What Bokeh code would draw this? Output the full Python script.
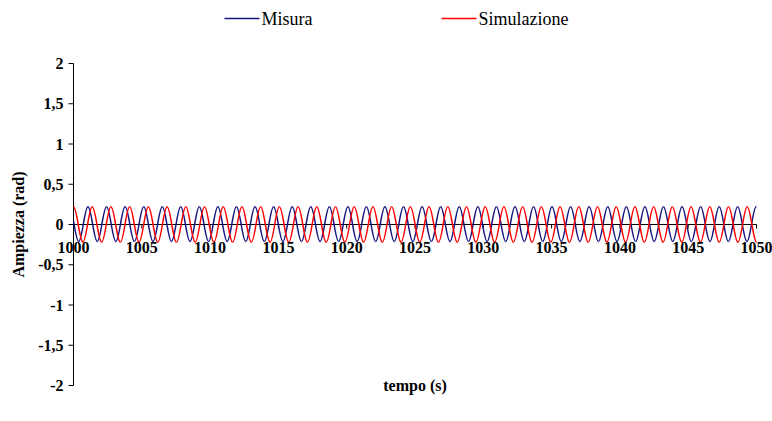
import math

from bokeh.plotting import figure
from bokeh.models import Range1d, LabelSet, Label, ColumnDataSource
from bokeh.embed import file_html
from bokeh.resources import INLINE

# Extremum times (s) and levels (rad) of the measured trace
misura_peak_t = [999.70, 1001.06, 1002.42, 1003.78, 1005.14, 1006.50, 1007.85, 1009.21,
                 1010.57, 1011.93, 1013.29, 1014.65, 1016.01, 1017.37, 1018.73, 1020.09,
                 1021.44, 1022.80, 1024.16, 1025.52, 1026.88, 1028.24, 1029.60, 1030.96,
                 1032.32, 1033.68, 1035.03, 1036.39, 1037.75, 1039.11, 1040.47, 1041.83,
                 1043.19, 1044.55, 1045.91, 1047.27, 1048.62, 1049.98]
misura_trough_t = [1000.38, 1001.74, 1003.10, 1004.46, 1005.82, 1007.17, 1008.53, 1009.89,
                   1011.25, 1012.61, 1013.97, 1015.33, 1016.69, 1018.05, 1019.41, 1020.76,
                   1022.12, 1023.48, 1024.84, 1026.20, 1027.56, 1028.92, 1030.28, 1031.64,
                   1033.00, 1034.35, 1035.71, 1037.07, 1038.43, 1039.79, 1041.15, 1042.51,
                   1043.87, 1045.23, 1046.59, 1047.94, 1049.30, 1050.66]
misura_peak = 0.22
misura_trough = -0.21

# Extremum times (s) and levels (rad) of the simulated trace
simulazione_peak_t = [1000.00, 1001.37, 1002.74, 1004.11, 1005.48, 1006.85, 1008.22, 1009.59,
                      1010.96, 1012.33, 1013.70, 1015.07, 1016.44, 1017.81, 1019.18, 1020.55,
                      1021.92, 1023.29, 1024.66, 1026.03, 1027.40, 1028.77, 1030.14, 1031.51,
                      1032.88, 1034.25, 1035.62, 1036.99, 1038.36, 1039.73, 1041.10, 1042.47,
                      1043.84, 1045.21, 1046.58, 1047.95, 1049.32, 1050.69]
simulazione_trough_t = [999.31, 1000.69, 1002.06, 1003.43, 1004.80, 1006.17, 1007.54, 1008.91,
                        1010.28, 1011.65, 1013.02, 1014.39, 1015.76, 1017.13, 1018.50, 1019.87,
                        1021.24, 1022.61, 1023.98, 1025.35, 1026.72, 1028.09, 1029.46, 1030.83,
                        1032.20, 1033.57, 1034.94, 1036.31, 1037.68, 1039.05, 1040.42, 1041.79,
                        1043.16, 1044.53, 1045.90, 1047.27, 1048.64, 1050.01]
simulazione_peak = 0.22
simulazione_trough = -0.22

series_names = ["Misura", "Simulazione"]
x_ticks = [1000, 1005, 1010, 1015, 1020, 1025, 1030, 1035, 1040, 1045, 1050]
x_tick_labels = ["1000", "1005", "1010", "1015", "1020", "1025", "1030", "1035", "1040", "1045", "1050"]
y_ticks = [-2.0, -1.5, -1.0, -0.5, 0.0, 0.5, 1.0, 1.5, 2.0]
y_tick_labels = ["-2", "-1,5", "-1", "-0,5", "0", "0,5", "1", "1,5", "2"]

X_MIN, X_MAX = 1000, 1050
Y_MIN, Y_MAX = -2, 2

# Page layout (pixels): the plotting area sits inside a full-canvas frame so that
# axis texts and the legend drawn around it are never clipped.
W, H = 772, 421
AREA_LEFT, AREA_RIGHT, AREA_TOP, AREA_BOTTOM = 73, 756, 63, 385
XPP = (X_MAX - X_MIN) / (AREA_RIGHT - AREA_LEFT)   # data units per pixel, x
YPP = (Y_MAX - Y_MIN) / (AREA_BOTTOM - AREA_TOP)   # data units per pixel, y

# Legend row: vertical centre and left end of each key line (pixels), key length
LEGEND_Y_PX = 18
LEGEND_X_PX = [224, 441]
LEGEND_KEY_PX = 35

FONT = "Liberation Serif"
BLUE = "#16167f"
RED = "#ff0000"


def px_to_x(px):
    return X_MIN + (px - AREA_LEFT) * XPP


def px_to_y(py):
    return Y_MAX - (py - AREA_TOP) * YPP


def _cubic(P, s):
    u = 1 - s
    return (u**3 * P[0][0] + 3 * u * u * s * P[1][0] + 3 * u * s * s * P[2][0] + s**3 * P[3][0],
            u**3 * P[0][1] + 3 * u * u * s * P[1][1] + 3 * u * s * s * P[2][1] + s**3 * P[3][1])


def _split(P, s):
    lerp = lambda a, b: (a[0] + (b[0] - a[0]) * s, a[1] + (b[1] - a[1]) * s)
    a, b, c = lerp(P[0], P[1]), lerp(P[1], P[2]), lerp(P[2], P[3])
    d, e = lerp(a, b), lerp(b, c)
    f = lerp(d, e)
    return [P[0], a, d, f], [f, e, c, P[3]]


def _param_at_x(P, x):
    lo, hi = 0.0, 1.0
    for _ in range(50):
        mid = (lo + hi) / 2
        if _cubic(P, mid)[0] < x:
            lo = mid
        else:
            hi = mid
    return (lo + hi) / 2


def half_waves(peak_t, trough_t, peak_v, trough_v, k=0.364):
    """Cubic Bezier half-waves joining consecutive extrema, trimmed to the time range."""
    pts = sorted([(t, peak_v) for t in peak_t] + [(t, trough_v) for t in trough_t])
    cols = {c: [] for c in ("x0", "y0", "cx0", "cy0", "cx1", "cy1", "x1", "y1")}
    for (ta, ya), (tb, yb) in zip(pts[:-1], pts[1:]):
        if tb <= X_MIN or ta >= X_MAX:
            continue
        P = [(ta, ya), (ta + k * (tb - ta), ya), (tb - k * (tb - ta), yb), (tb, yb)]
        if ta < X_MIN:
            P = _split(P, _param_at_x(P, X_MIN))[1]
        if tb > X_MAX:
            P = _split(P, _param_at_x(P, X_MAX))[0]
        for (xn, yn), (px, py) in zip((("x0", "y0"), ("cx0", "cy0"), ("cx1", "cy1"), ("x1", "y1")), P):
            cols[xn].append(px)
            cols[yn].append(py)
    return ColumnDataSource(cols)


p = figure(width=W, height=H,
           x_range=Range1d(px_to_x(0), px_to_x(W)),
           y_range=Range1d(px_to_y(H), px_to_y(0)),
           x_axis_type=None, y_axis_type=None, output_backend="svg", toolbar_location=None,
           min_border=0)
p.outline_line_color = None
p.background_fill_color = "white"
p.border_fill_color = "white"

text_style = dict(text_font=FONT, text_font_style="bold", text_font_size="16px", text_color="black")

# Value axis (left)
p.segment(x0=[X_MIN], y0=[Y_MIN], x1=[X_MIN], y1=[Y_MAX], line_color="black", line_width=1)
p.segment(x0=[X_MIN - 5 * XPP] * len(y_ticks), y0=y_ticks, x1=[X_MIN] * len(y_ticks), y1=y_ticks,
          line_color="black", line_width=1)
ytick_src = ColumnDataSource(dict(x=[X_MIN] * len(y_ticks), y=y_ticks, text=y_tick_labels))
p.add_layout(LabelSet(x="x", y="y", text="text", source=ytick_src, x_offset=-10,
                      text_align="right", text_baseline="middle", **text_style))
p.add_layout(Label(x=X_MIN, y=(Y_MIN + Y_MAX) / 2, x_offset=-55, angle=math.pi / 2,
                   text="Ampiezza (rad)", text_align="center", text_baseline="middle",
                   **text_style))

# Time axis drawn through zero
p.segment(x0=[X_MIN], y0=[0], x1=[X_MAX], y1=[0], line_color="black", line_width=1)
p.segment(x0=x_ticks, y0=[0] * len(x_ticks), x1=x_ticks, y1=[-4 * YPP] * len(x_ticks),
          line_color="black", line_width=1)
xtick_src = ColumnDataSource(dict(x=x_ticks, y=[0] * len(x_ticks), text=x_tick_labels))
p.add_layout(LabelSet(x="x", y="y", text="text", source=xtick_src, y_offset=-28,
                      text_align="center", text_baseline="alphabetic", **text_style))
p.add_layout(Label(x=(X_MIN + X_MAX) / 2, y=Y_MIN, text="tempo (s)", text_align="center",
                   text_baseline="middle", **text_style))

# Traces
bez = dict(x0="x0", y0="y0", x1="x1", y1="y1", cx0="cx0", cy0="cy0", cx1="cx1", cy1="cy1")
p.bezier(source=half_waves(misura_peak_t, misura_trough_t, misura_peak, misura_trough),
         line_color=BLUE, line_width=1.5, **bez)
p.bezier(source=half_waves(simulazione_peak_t, simulazione_trough_t,
                           simulazione_peak, simulazione_trough),
         line_color=RED, line_width=1.5, **bez)

# Legend row above the plotting area
ly = px_to_y(LEGEND_Y_PX)
for name, color, left in zip(series_names, [BLUE, RED], LEGEND_X_PX):
    p.segment(x0=[px_to_x(left)], y0=[ly], x1=[px_to_x(left + LEGEND_KEY_PX)], y1=[ly],
              line_color=color, line_width=1.5)
    p.add_layout(Label(x=px_to_x(left + LEGEND_KEY_PX), y=ly, x_offset=2, text=name,
                       text_align="left", text_baseline="middle", text_font=FONT,
                       text_font_size="18px", text_color="black"))

open("out.html", "w").write(file_html(p, INLINE))
